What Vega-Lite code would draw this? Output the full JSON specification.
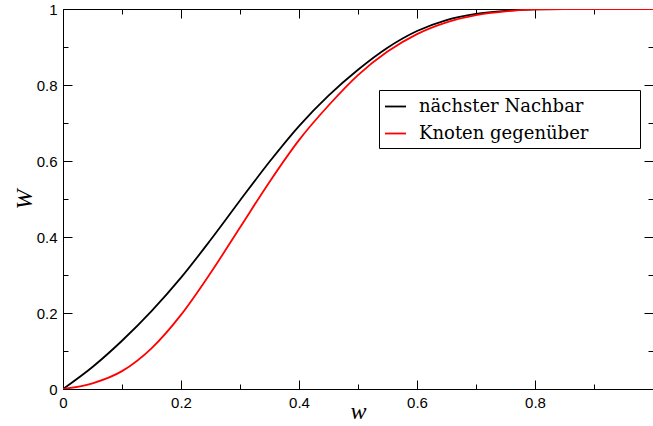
{
  "$schema": "https://vega.github.io/schema/vega-lite/v6.json",
  "autosize": "none",
  "width": 590,
  "height": 380,
  "padding": {"left": 63, "top": 9, "right": 0, "bottom": 37},
  "background": "white",
  "config": {
    "view": {"stroke": null},
    "axis": {
      "domainColor": "black", "domainWidth": 1, "tickColor": "black", "tickWidth": 1,
      "labelFont": "Liberation Sans", "labelFontSize": 15, "labelColor": "black",
      "grid": false, "titleFont": "Liberation Serif", "titleFontStyle": "italic",
      "titleFontWeight": "normal", "titleFontSize": 24, "titleColor": "black"
    }
  },
  "data": {"values": [
    {"s": "nächster Nachbar", "w": 0.0, "W": 0.0},
    {"s": "nächster Nachbar", "w": 0.05, "W": 0.058},
    {"s": "nächster Nachbar", "w": 0.10, "W": 0.127},
    {"s": "nächster Nachbar", "w": 0.15, "W": 0.205},
    {"s": "nächster Nachbar", "w": 0.20, "W": 0.293},
    {"s": "nächster Nachbar", "w": 0.25, "W": 0.392},
    {"s": "nächster Nachbar", "w": 0.30, "W": 0.496},
    {"s": "nächster Nachbar", "w": 0.35, "W": 0.598},
    {"s": "nächster Nachbar", "w": 0.40, "W": 0.692},
    {"s": "nächster Nachbar", "w": 0.45, "W": 0.772},
    {"s": "nächster Nachbar", "w": 0.50, "W": 0.840},
    {"s": "nächster Nachbar", "w": 0.55, "W": 0.898},
    {"s": "nächster Nachbar", "w": 0.60, "W": 0.942},
    {"s": "nächster Nachbar", "w": 0.65, "W": 0.971},
    {"s": "nächster Nachbar", "w": 0.70, "W": 0.987},
    {"s": "nächster Nachbar", "w": 0.75, "W": 0.995},
    {"s": "nächster Nachbar", "w": 0.80, "W": 0.999},
    {"s": "nächster Nachbar", "w": 0.85, "W": 1.0},
    {"s": "nächster Nachbar", "w": 1.0, "W": 1.0},
    {"s": "Knoten gegenüber", "w": 0.0, "W": 0.0},
    {"s": "Knoten gegenüber", "w": 0.05, "W": 0.015},
    {"s": "Knoten gegenüber", "w": 0.10, "W": 0.047},
    {"s": "Knoten gegenüber", "w": 0.15, "W": 0.107},
    {"s": "Knoten gegenüber", "w": 0.20, "W": 0.195},
    {"s": "Knoten gegenüber", "w": 0.25, "W": 0.305},
    {"s": "Knoten gegenüber", "w": 0.30, "W": 0.425},
    {"s": "Knoten gegenüber", "w": 0.35, "W": 0.545},
    {"s": "Knoten gegenüber", "w": 0.40, "W": 0.655},
    {"s": "Knoten gegenüber", "w": 0.45, "W": 0.746},
    {"s": "Knoten gegenüber", "w": 0.50, "W": 0.826},
    {"s": "Knoten gegenüber", "w": 0.55, "W": 0.888},
    {"s": "Knoten gegenüber", "w": 0.60, "W": 0.934},
    {"s": "Knoten gegenüber", "w": 0.65, "W": 0.965},
    {"s": "Knoten gegenüber", "w": 0.70, "W": 0.984},
    {"s": "Knoten gegenüber", "w": 0.75, "W": 0.994},
    {"s": "Knoten gegenüber", "w": 0.80, "W": 0.999},
    {"s": "Knoten gegenüber", "w": 0.85, "W": 1.0},
    {"s": "Knoten gegenüber", "w": 1.0, "W": 1.0}
  ]},
  "resolve": {"axis": {"x": "independent", "y": "independent"}},
  "layer": [
    {
      "mark": {"type": "line", "strokeWidth": 1.8, "interpolate": "monotone", "clip": true},
      "encoding": {
        "x": {"field": "w", "type": "quantitative",
              "scale": {"domain": [0, 1], "nice": false, "zero": false},
              "axis": {"orient": "bottom", "values": [0, 0.2, 0.4, 0.6, 0.8], "format": "~g", "tickSize": -9, "labelPadding": 15,
                       "labelFlush": false, "labelOverlap": false, "title": "w", "titleY": 29, "titleBaseline": "alphabetic"}},
        "y": {"field": "W", "type": "quantitative",
              "scale": {"domain": [0, 1], "nice": false, "zero": false},
              "axis": {"orient": "left", "values": [0, 0.2, 0.4, 0.6, 0.8, 1], "format": "~g", "tickSize": -9, "labelPadding": 15,
                       "labelFlush": false, "labelOverlap": false, "title": "W", "titleX": -32, "titleBaseline": "alphabetic"}},
        "color": {"field": "s", "type": "nominal",
                  "scale": {"domain": ["nächster Nachbar", "Knoten gegenüber"], "range": ["#000000", "#ff0000"]},
                  "legend": {"orient": "none", "legendX": 316, "legendY": 81, "title": null,
                             "strokeColor": "black", "fillColor": "white", "padding": 5,
                             "symbolType": "stroke", "symbolSize": 441, "symbolStrokeWidth": 1.8,
                             "labelFont": "DejaVu Serif", "labelFontSize": 18, "labelColor": "black",
                             "labelOffset": 12, "rowPadding": 6, "labelLimit": 400,
                             "labelExpr": "datum.label + '\u00a0\u00a0\u00a0\u00a0\u00a0\u00a0\u00a0\u00a0\u200b'"}}
      }
    },
    {
      "mark": {"type": "point", "opacity": 0},
      "encoding": {
        "x": {"field": "w", "type": "quantitative",
              "axis": {"orient": "bottom", "values": [0.1, 0.3, 0.5, 0.7, 0.9], "tickSize": -5, "labels": false, "domain": false, "title": null}},
        "y": {"field": "W", "type": "quantitative",
              "axis": {"orient": "left", "values": [0.1, 0.3, 0.5, 0.7, 0.9], "tickSize": -5, "labels": false, "domain": false, "title": null}}
      }
    },
    {
      "mark": {"type": "point", "opacity": 0},
      "encoding": {
        "x": {"field": "w", "type": "quantitative",
              "axis": {"orient": "top", "values": [0, 0.2, 0.4, 0.6, 0.8, 1], "tickSize": -9, "labels": false, "title": null}},
        "y": {"field": "W", "type": "quantitative",
              "axis": {"orient": "right", "values": [0, 0.2, 0.4, 0.6, 0.8, 1], "tickSize": -9, "labels": false, "title": null}}
      }
    },
    {
      "mark": {"type": "point", "opacity": 0},
      "encoding": {
        "x": {"field": "w", "type": "quantitative",
              "axis": {"orient": "top", "values": [0.1, 0.3, 0.5, 0.7, 0.9], "tickSize": -5, "labels": false, "domain": false, "title": null}},
        "y": {"field": "W", "type": "quantitative",
              "axis": {"orient": "right", "values": [0.1, 0.3, 0.5, 0.7, 0.9], "tickSize": -5, "labels": false, "domain": false, "title": null}}
      }
    }
  ]
}
